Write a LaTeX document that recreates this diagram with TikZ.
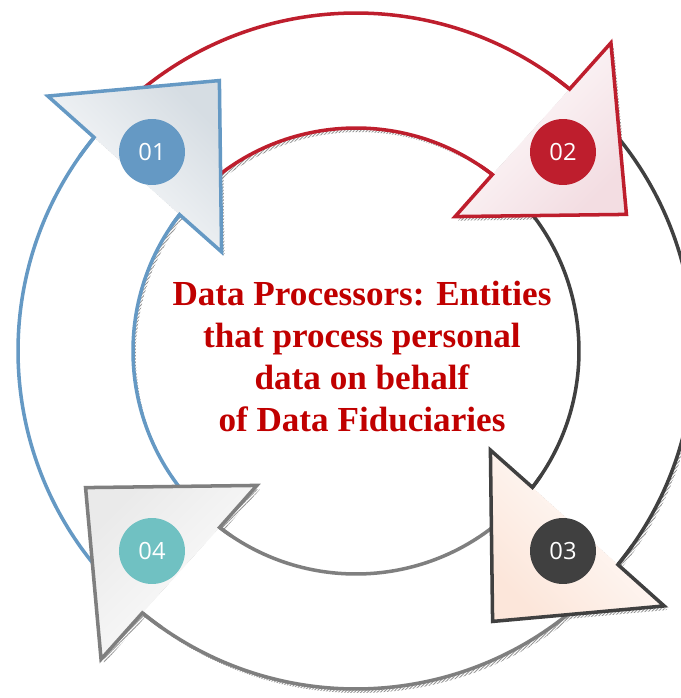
\documentclass[tikz,border=0pt]{standalone}
\usepackage{fontspec}
\setmainfont{Liberation Serif}
\newfontfamily\numfont{Open Sans}
\usetikzlibrary{patterns.meta}

\definecolor{stepblue}{HTML}{6599C4}
\definecolor{stepred}{HTML}{BE1E2D}
\definecolor{stepdark}{HTML}{404040}
\definecolor{stepgray}{HTML}{7F7F7F}
\definecolor{stepteal}{HTML}{70C1C2}
\definecolor{textred}{HTML}{C00000}
\definecolor{headblue}{HTML}{D6DDE3}
\definecolor{headred}{HTML}{F3DDE2}
\definecolor{headdark}{HTML}{FCE6DA}
\definecolor{headgray}{HTML}{EAEAEA}

\tikzset{
  ring/.style={line width=2pt, line join=miter},
  shadow/.style={pattern={Lines[angle=45,distance=1.3pt,line width=0.5pt]}, pattern color=gray!85},
  num/.style={circle, minimum size=1.32cm, inner sep=0pt, text=white, font=\numfont\fontsize{13.5}{14}\selectfont},
  headfill/.style={top color=#1, middle color=white, bottom color=white},
}

\begin{document}
\begin{tikzpicture}[x=0.02cm, y=0.02cm]
\useasboundingbox (-356,-347) rectangle (325,351);

% shadows
\begin{scope}[shift={(3,-4)}]
\fill[shadow] (226:338) arc[start angle=226, end angle=140.8, radius=338] -- (140.4:400) -- (116.8:303) -- (143.6:167) -- (142.3:223) arc[start angle=142.3, end angle=226, radius=223] -- cycle;
\fill[shadow] (136:338) arc[start angle=136, end angle=50.8, radius=338] -- (50.4:400) -- (26.8:303) -- (53.6:167) -- (52.3:223) arc[start angle=52.3, end angle=136, radius=223] -- cycle;
\fill[shadow] (46:338) arc[start angle=46, end angle=-39.2, radius=338] -- (-39.6:400) -- (-63.2:303) -- (-36.4:167) -- (-37.7:223) arc[start angle=-37.7, end angle=46, radius=223] -- cycle;
\fill[shadow] (-44:338) arc[start angle=-44, end angle=-129.2, radius=338] -- (-129.6:400) -- (-153.2:303) -- (-126.4:167) -- (-127.7:223) arc[start angle=-127.7, end angle=-44, radius=223] -- cycle;
\end{scope}

% ring bodies
\fill[white] (226:338) arc[start angle=226, end angle=140.8, radius=338] -- (142.3:223) arc[start angle=142.3, end angle=226, radius=223] -- cycle;
\draw[ring, stepblue] (226:338) arc[start angle=226, end angle=140.8, radius=338];
\draw[ring, stepblue] (142.3:223) arc[start angle=142.3, end angle=226, radius=223];

\fill[white] (136:338) arc[start angle=136, end angle=50.8, radius=338] -- (52.3:223) arc[start angle=52.3, end angle=136, radius=223] -- cycle;
\draw[ring, stepred] (136:338) arc[start angle=136, end angle=50.8, radius=338];
\draw[ring, stepred] (52.3:223) arc[start angle=52.3, end angle=136, radius=223];

\fill[white] (46:338) arc[start angle=46, end angle=-39.2, radius=338] -- (-37.7:223) arc[start angle=-37.7, end angle=46, radius=223] -- cycle;
\draw[ring, stepdark] (46:338) arc[start angle=46, end angle=-39.2, radius=338];
\draw[ring, stepdark] (-37.7:223) arc[start angle=-37.7, end angle=46, radius=223];

\fill[white] (-44:338) arc[start angle=-44, end angle=-129.2, radius=338] -- (-127.7:223) arc[start angle=-127.7, end angle=-44, radius=223] -- cycle;
\draw[ring, stepgray] (-44:338) arc[start angle=-44, end angle=-129.2, radius=338];
\draw[ring, stepgray] (-127.7:223) arc[start angle=-127.7, end angle=-44, radius=223];

% arrow heads
\shade[headfill=headblue, shading angle=-45] (140.8:338) -- (140.4:400) -- (116.8:303) -- (143.6:167) -- (142.3:223) -- cycle;
\draw[ring, stepblue] (145:338) arc[start angle=145, end angle=140.8, radius=338] -- (140.4:400) -- (116.8:303) -- (143.6:167) -- (142.3:223) arc[start angle=142.3, end angle=146, radius=223];

\shade[headfill=headred, shading angle=-135] (50.8:338) -- (50.4:400) -- (26.8:303) -- (53.6:167) -- (52.3:223) -- cycle;
\draw[ring, stepred] (55:338) arc[start angle=55, end angle=50.8, radius=338] -- (50.4:400) -- (26.8:303) -- (53.6:167) -- (52.3:223) arc[start angle=52.3, end angle=56, radius=223];

\shade[headfill=headdark, shading angle=135] (-39.2:338) -- (-39.6:400) -- (-63.2:303) -- (-36.4:167) -- (-37.7:223) -- cycle;
\draw[ring, stepdark] (-35:338) arc[start angle=-35, end angle=-39.2, radius=338] -- (-39.6:400) -- (-63.2:303) -- (-36.4:167) -- (-37.7:223) arc[start angle=-37.7, end angle=-34, radius=223];

\shade[headfill=headgray, shading angle=45] (-129.2:338) -- (-129.6:400) -- (-153.2:303) -- (-126.4:167) -- (-127.7:223) -- cycle;
\draw[ring, stepgray] (-125:338) arc[start angle=-125, end angle=-129.2, radius=338] -- (-129.6:400) -- (-153.2:303) -- (-126.4:167) -- (-127.7:223) arc[start angle=-127.7, end angle=-124, radius=223];

% step numbers
\node[num, fill=stepblue] (n01) at (-204,199) {01};
\node[num, fill=stepred] (n02) at (207,199) {02};
\node[num, fill=stepdark] (n03) at (207,-200) {03};
\node[num, fill=stepteal] (n04) at (-204,-200) {04};

% centre text
\node[anchor=north, inner sep=0pt, align=center, text=textred,
  font=\bfseries\fontsize{20}{23.9}\selectfont] (title) at (6,70)
  {Data Processors: Entities\\that process personal\\data on behalf\\of Data Fiduciaries};

\end{tikzpicture}
\end{document}
